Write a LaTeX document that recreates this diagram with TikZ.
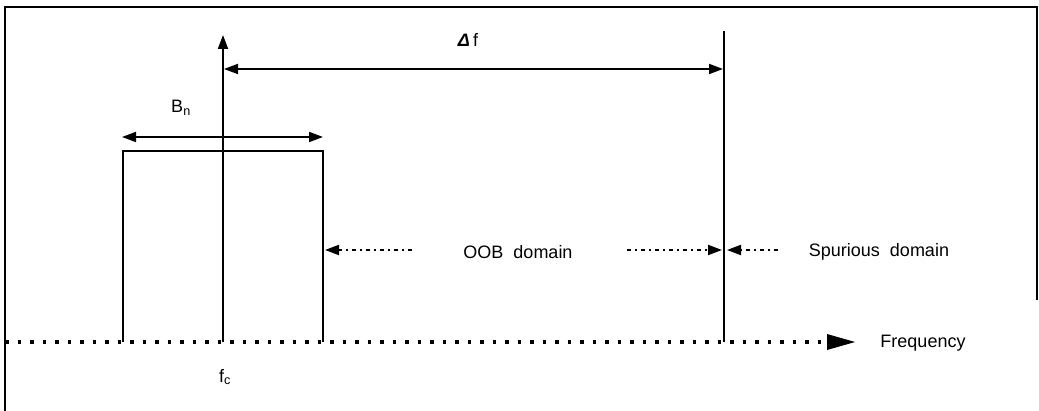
\documentclass[tikz,border=0pt]{standalone}
\usepackage{fontspec}
\setmainfont{Liberation Sans}
\usetikzlibrary{arrows.meta}
\tikzset{
  lbl/.style={inner sep=0pt, font=\fontsize{18}{20}\selectfont},
  solid line/.style={line width=2pt},
  tipA/.style={-{Triangle[length=14pt,width=10pt]}},
  dimline/.style={line width=1.8pt, {Triangle[length=14pt,width=10pt]}-{Triangle[length=14pt,width=10pt]}},
  dotline/.style={line width=2pt, dash pattern=on 4pt off 4pt on 2pt off 4pt},
  axisdots/.style={line width=3.5pt, dash pattern=on 3.5pt off 9pt},
}
\begin{document}
\begin{tikzpicture}[x=1pt,y=-1pt]
\useasboundingbox (0,0) rectangle (1039,411);
% frame
\draw[line width=1.8pt] (5,411) -- (5,7) -- (1037,7) -- (1037,300);
% coordinates
\coordinate (ax0) at (223,342);
\coordinate (axtop) at (223,35);
\coordinate (sp0) at (724,342);
\coordinate (sptop) at (724,31);
\coordinate (fa0) at (5,342);
\coordinate (fa1) at (855,342);
% frequency axis
\draw[axisdots] (fa0) -- (828,342);
\fill (827,334) -- (fa1) -- (827,350) -- cycle;
\node[lbl] (freq) at (923,343) {Frequency};
% vertical axis
\draw[solid line, tipA] (ax0) -- (axtop);
% spurious boundary
\draw[solid line] (sp0) -- (sptop);
% rectangle
\draw[solid line] (123,342) -- (123,151) -- (323,151) -- (323,342);
% Bn
\coordinate (bnl) at (122,137);
\coordinate (bnr) at (323,137);
\draw[dimline] (bnl) -- (bnr);
\node[lbl] (bn) at (181,108) {B\textsubscript{n}};
% Delta f
\coordinate (dfl) at (224,69);
\coordinate (dfr) at (723,69);
\draw[line width=1.8pt, {Triangle[length=14pt,width=10pt]}-{Triangle[length=14pt,width=10pt]}] (dfl) -- (dfr);
\node[lbl] (df) at (468,40) {\textbf{\textit{Δ}}\,f};
% fc
\node[lbl] (fc) at (225,377) {f\textsubscript{c}};
% OOB
\node[lbl] (oob) at (518,252) {OOB\ \ domain};
\coordinate (o1) at (412,250);
\coordinate (o2) at (325,250);
\draw[dotline, -{Triangle[length=14pt,width=10pt]}] (o1) -- (o2);
\coordinate (o3) at (627,250);
\coordinate (o4) at (722,250);
\draw[dotline, -{Triangle[length=14pt,width=10pt]}] (o3) -- (o4);
% Spurious
\coordinate (s1) at (778,250);
\coordinate (s2) at (727,250);
\draw[dotline, -{Triangle[length=14pt,width=10pt]}] (s1) -- (s2);
\node[lbl] (spur) at (879,252) {Spurious\ \ domain};
\end{tikzpicture}
\end{document}
